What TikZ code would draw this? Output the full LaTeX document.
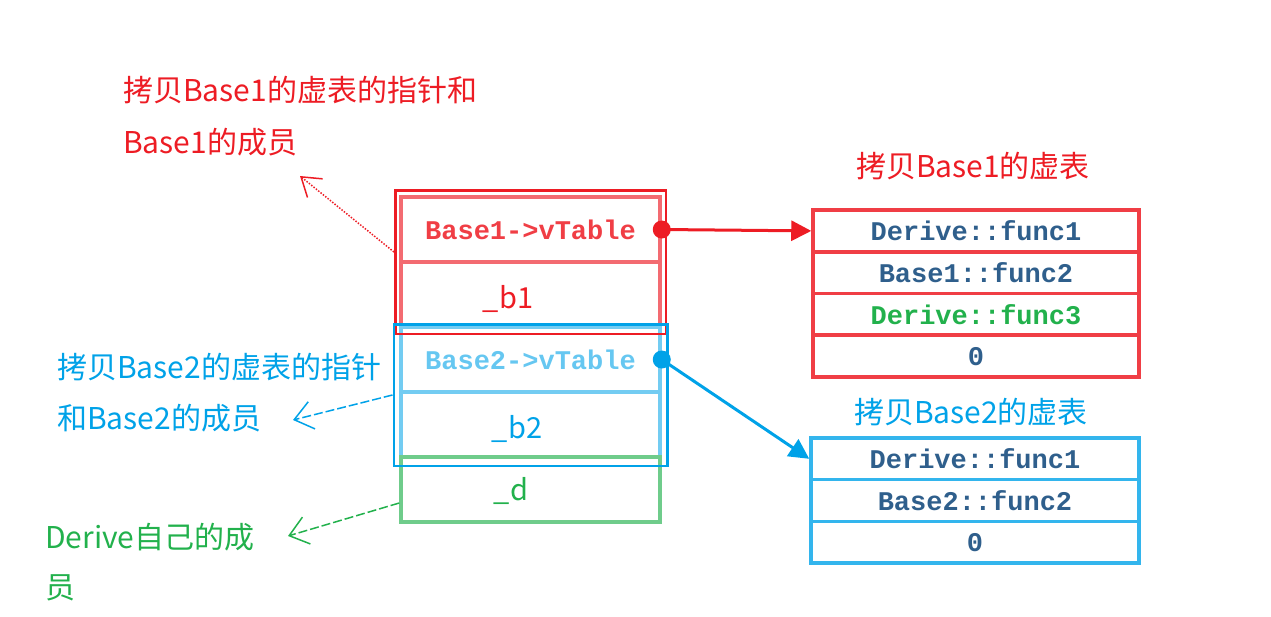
\documentclass[tikz,border=0pt]{standalone}
\usepackage{fontspec}
\newfontfamily\cjk{Noto Sans CJK SC}
\newfontfamily\monof{Liberation Mono}
\usetikzlibrary{arrows.meta,fit}
\definecolor{redc}{RGB}{237,28,36}
\definecolor{bluec}{RGB}{0,162,232}
\definecolor{greenc}{RGB}{34,177,76}
\definecolor{funcc}{RGB}{47,95,140}
\begin{document}
\begin{tikzpicture}[x=1pt,y=-1pt,
  lbl/.style={anchor=west, inner sep=0pt, font=\cjk\fontsize{30}{34}\selectfont},
  title/.style={inner sep=0pt, font=\cjk\fontsize{30}{34}\selectfont},
  memb/.style={anchor=base, inner sep=0pt, font=\cjk\fontsize{29}{32}\selectfont},
  cell/.style={minimum width=259pt, minimum height=65pt, inner sep=0pt, line width=3.5pt,
    font=\monof\bfseries\fontsize{27}{30}\selectfont},
  rcell/.style={minimum width=326pt, minimum height=41.75pt, inner sep=0pt, draw=redc!85, line width=3.5pt,
    text=funcc, font=\monof\bfseries\fontsize{27}{30}\selectfont},
  bcell/.style={rcell, minimum width=328pt, draw=bluec!80},
  frame/.style={line width=2.5pt},
  note/.style={line width=1.5pt},
  barb/.style={-{Straight Barb[length=18pt,width=28pt]}}
]
\useasboundingbox (0,0) rectangle (1271,616);
% left object layout
\node[cell, draw=redc!65, text=redc!85] (vt1) at (530.5,229.5) {Base1->vTable};
\node[cell, draw=redc!65] (b1) at (530.5,294.5) {};
\node[cell, draw=bluec!55, text=bluec!60] (vt2) at (530.5,359.5) {Base2->vTable};
\node[cell, draw=bluec!55] (b2) at (530.5,424.5) {};
\node[cell, draw=greenc!65] (d) at (530.5,489.5) {};
\node[memb, text=redc] at (508,308) {\_b1};
\node[memb, text=bluec] at (517,438) {\_b2};
\node[memb, text=greenc] at (511,500) {\_d};
\node[frame, draw=redc, fit=(vt1)(b1), inner xsep=4pt, inner ysep=5pt] (grp1) {};
\node[frame, draw=bluec, fit=(vt2)(b2), inner xsep=5.5pt, inner ysep=4pt, yshift=-3pt] (grp2) {};
% vtables
\node[rcell] (r1) at (976,230.9) {Derive::func1};
\node[rcell] (r2) at (976,272.6) {Base1::func2};
\node[rcell, text=greenc] (r3) at (976,314.4) {Derive::func3};
\node[rcell] (r4) at (976,356.1) {0};
\node[bcell] (s1) at (975,458.8) {Derive::func1};
\node[bcell] (s2) at (975,500.5) {Base2::func2};
\node[bcell] (s3) at (975,542.2) {0};
\node[title, text=redc] (t1) at (973,166) {拷贝Base1的虚表};
\node[title, text=bluec] (t2) at (971,412) {拷贝Base2的虚表};
% pointers
\fill[redc] (vt1.east) circle[radius=9pt];
\fill[bluec] (vt2.east) circle[radius=9pt];
\draw[redc, line width=3pt, -{Triangle[length=20pt,width=20pt]}] (vt1.east) -- (r1.west);
\draw[bluec, line width=3pt, -{Triangle[length=20pt,width=20pt]}] (vt2.east) -- (s1.west);
% notes
\node[lbl, text=redc] (n1a) at (123,90) {拷贝Base1的虚表的指针和};
\node[lbl, text=redc] (n1b) at (123,142) {Base1的成员};
\node[lbl, text=bluec] (n2a) at (57,367) {拷贝Base2的虚表的指针};
\node[lbl, text=bluec] (n2b) at (57,418) {和Base2的成员};
\node[lbl, text=greenc] (n3a) at (45,537) {Derive自己的成};
\node[lbl, text=greenc] (n3b) at (45,588) {员};
\coordinate (p1) at (300,176);
\coordinate (p2) at (293,420);
\coordinate (p3) at (288,536);
\draw[note, redc, dash pattern=on 1.5pt off 1.5pt, -{Straight Barb[length=18pt,width=24pt]}] ([yshift=10pt]grp1.west) -- (p1);
\draw[note, bluec, dash pattern=on 9pt off 3pt, barb] (grp2.west) -- (p2);
\draw[note, greenc, dash pattern=on 9pt off 3pt, barb] ([yshift=-13.5pt]d.west) -- (p3);
\end{tikzpicture}
\end{document}
